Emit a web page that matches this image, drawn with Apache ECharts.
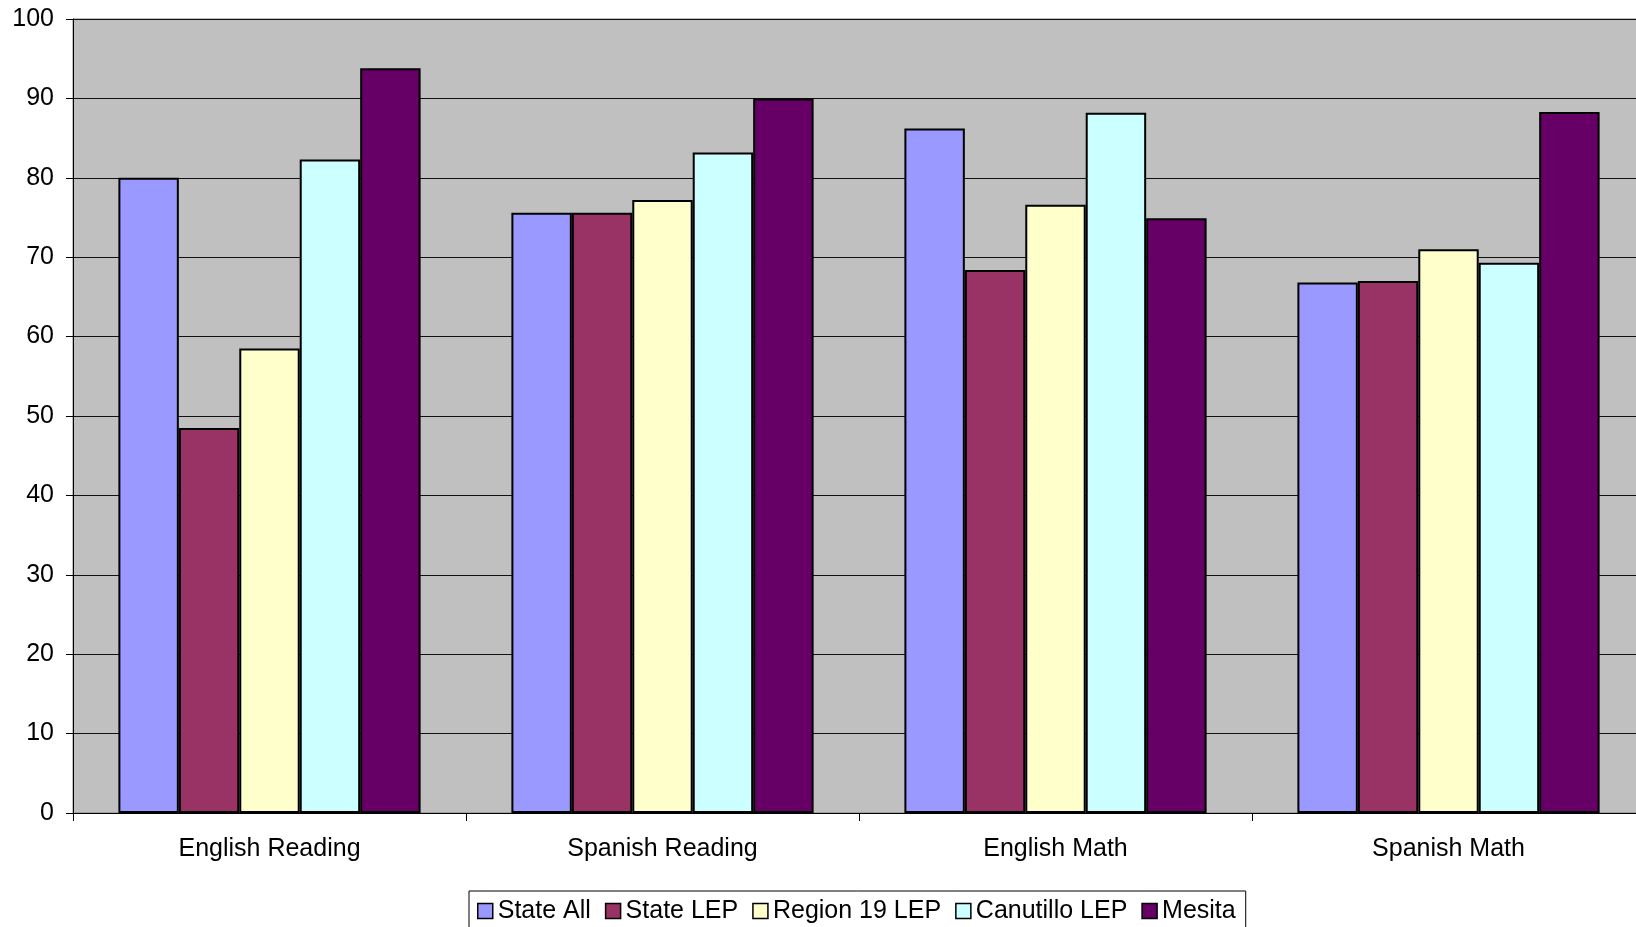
<!DOCTYPE html>
<html>
<head>
<meta charset="utf-8">
<script src="https://cdn.jsdelivr.net/npm/echarts@6/dist/echarts.min.js"></script>
<style>
  html, body { margin: 0; padding: 0; background: #ffffff; overflow: hidden; }
  /* plot area runs past the right edge of the window, so the canvas is wider */
  #chart { width: 1660px; height: 927px; }
</style>
</head>
<body>
<div id="chart"></div>
<script>
// Test categories along the x axis
const categories = ['English Reading', 'Spanish Reading', 'English Math', 'Spanish Math'];

// Percent passing per group
const stateAll     = [80.0, 75.6, 86.2, 66.8];
const stateLEP     = [48.5, 75.6, 68.4, 67.0];
const region19LEP  = [58.5, 77.2, 76.6, 71.0];
const canutilloLEP = [82.3, 83.2, 88.2, 69.3];
const mesita       = [93.8, 90.0, 74.9, 88.3];

const seriesNames  = ['State All', 'State LEP', 'Region 19 LEP', 'Canutillo LEP', 'Mesita'];
const seriesValues = [stateAll, stateLEP, region19LEP, canutilloLEP, mesita];
const seriesColors = ['#9999FF', '#993366', '#FFFFCC', '#CCFFFF', '#660066'];

const FONT = '"Liberation Sans", Arial, sans-serif';

const chart = echarts.init(document.getElementById('chart'), null, { renderer: 'canvas' });

chart.setOption({
  animation: false,
  backgroundColor: '#ffffff',
  textStyle: { fontFamily: FONT, color: '#000' },
  grid: {
    left: 73,
    top: 19,
    width: 1572,
    height: 794,
    show: true,
    backgroundColor: '#C0C0C0',
    borderColor: '#808080',
    borderWidth: 1,
    containLabel: false
  },
  legend: {
    left: 469,
    top: 891,
    orient: 'horizontal',
    icon: 'rect',
    itemWidth: 15,
    itemHeight: 15,
    itemGap: 14,
    padding: [7, 10, 12, 8],
    borderColor: '#000',
    borderWidth: 1,
    backgroundColor: '#ffffff',
    itemStyle: { borderColor: '#000', borderWidth: 1.5 },
    textStyle: { fontFamily: FONT, fontSize: 25, lineHeight: 26, color: '#000' },
    data: seriesNames
  },
  xAxis: {
    type: 'category',
    data: categories,
    boundaryGap: true,
    axisLine: { lineStyle: { color: '#000', width: 1 } },
    axisTick: { show: true, length: 8, lineStyle: { color: '#000' } },
    axisLabel: { fontFamily: FONT, fontSize: 25, color: '#000', margin: 24 },
    splitLine: { show: false }
  },
  yAxis: {
    type: 'value',
    min: 0,
    max: 100,
    interval: 10,
    axisLine: { show: true, lineStyle: { color: '#000', width: 1 } },
    axisTick: { show: true, length: 7, inside: false, lineStyle: { color: '#000' } },
    axisLabel: { fontFamily: FONT, fontSize: 25, color: '#000', margin: 19 },
    splitLine: { show: true, lineStyle: { color: '#111111', width: 1 } }
  },
  series: seriesNames.map((name, i) => ({
    name: name,
    type: 'bar',
    data: seriesValues[i],
    barGap: '0%',
    barCategoryGap: '23.1%',
    itemStyle: {
      color: seriesColors[i],
      borderColor: '#000',
      borderWidth: 2
    }
  }))
});
</script>
</body>
</html>
